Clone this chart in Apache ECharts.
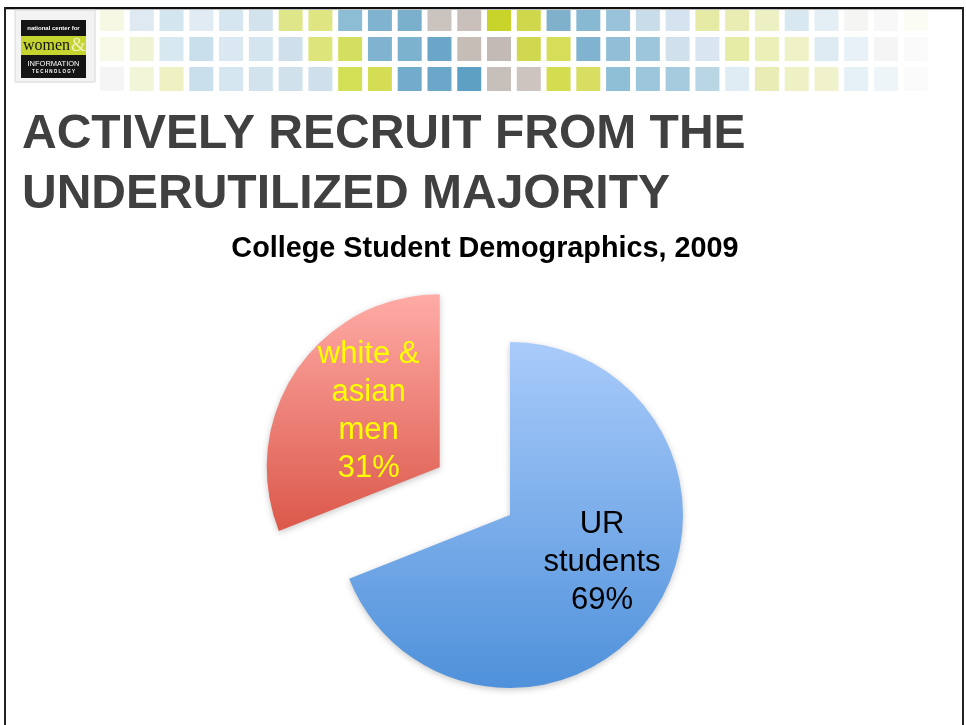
<!DOCTYPE html>
<html>
<head>
<meta charset="utf-8">
<script src="https://cdn.jsdelivr.net/npm/echarts@6/dist/echarts.min.js"></script>
<style>
html,body{margin:0;padding:0;background:#fff;}
#chart{width:966px;height:725px;}
</style>
</head>
<body>
<div id="chart"></div>
<script>
// ---- data ----
const categories = ['UR\nstudents', 'white &\nasian\nmen'];
const values = [69, 31];
const slideTitleLines = ['ACTIVELY RECRUIT FROM THE', 'UNDERUTILIZED MAJORITY'];
const chartTitle = 'College Student Demographics, 2009';

// ---- decorative header palette (style) ----
const headerRows = [
  ['#f7f8e4','#dfe9f1','#d3e5ee','#e0ebf3','#d6e6f0','#d3e3ee','#dfe68a','#dfe681','#8dbcd5','#7fb3cf','#7ab0cc','#cbc3be','#c9c0bb','#c8d42a','#cfd84a','#7fb1cd','#88b9d3','#98c3da','#c9dcea','#d4e3ef','#e5eaa4','#e9edb3','#edf0c3','#d8e8f0','#e4eef5','#f5f5f3','#f8f8f8','#fbfcf4'],
  ['#f8f9e6','#f1f3d5','#d8e8f0','#c9e0ec','#d9e8f1','#d5e5ef','#cfe0ec','#dde57a','#d5df5f','#80b3cf','#7cb2cd','#6aa6c8','#c6bdb7','#c3bab5','#cfd84e','#d6dd58','#80b3cf','#92bfd7','#9ec6db','#d0e1ed','#d9e6f2','#e6eba6','#ebefb8','#eef2c6','#deebf2','#e8f1f7','#f5f5f5','#fafafa'],
  ['#f5f5f5','#f3f5d8','#eef2c2','#c9dfeb','#d6e6f0','#d3e3ee','#d0e1ec','#cfe0ec','#d3df55','#d5dd55','#72abcb','#6ba7c9','#5ea0c4','#c6bfba','#cdc4c0','#d4dc50','#d7de62','#8fbed7','#9cc6dc','#a6cbdf','#b9d6e4','#dfecf3','#e9edb5','#eef1c4','#f0f2cc','#e6f0f7','#eef5f9','#fafbfa']
];

const graphics = [];
const rowY = [7, 37, 67];
headerRows.forEach((row, r) => {
  row.forEach((c, k) => {
    graphics.push({type:'rect', shape:{x:100 + 29.77*k, y:rowY[r], width:24, height:24}, style:{fill:c}, z:1, silent:true});
  });
});
// frame
graphics.push({type:'rect', shape:{x:4, y:7, width:960, height:2}, style:{fill:'#111'}, z:5, silent:true});
graphics.push({type:'rect', shape:{x:5, y:9, width:958, height:1}, style:{fill:'#bbb'}, z:5, silent:true});
graphics.push({type:'rect', shape:{x:4, y:7, width:2, height:720}, style:{fill:'#222'}, z:5, silent:true});
graphics.push({type:'rect', shape:{x:962, y:7, width:2, height:720}, style:{fill:'#222'}, z:5, silent:true});
// logo
graphics.push({type:'rect', shape:{x:15, y:10, width:80, height:72}, style:{fill:'#f3f3f3', stroke:'#d6d6d6', lineWidth:1}, z:6, silent:true});
graphics.push({type:'rect', shape:{x:21, y:20, width:65, height:58}, style:{fill:'#151515'}, z:7, silent:true});
graphics.push({type:'rect', shape:{x:21, y:36, width:65, height:19}, style:{fill:'#c6d42f'}, z:8, silent:true});
graphics.push({type:'text', x:53.5, y:28, style:{text:'national center for', fill:'#fff', font:'bold 6px "Liberation Sans", Arial', align:'center', verticalAlign:'middle'}, z:9, silent:true});
graphics.push({type:'text', x:23, y:46, style:{text:'women', fill:'#111', font:'16px "Liberation Serif", "DejaVu Serif", serif', align:'left', verticalAlign:'middle'}, z:9, silent:true});
graphics.push({type:'text', x:71, y:46, style:{text:'&', fill:'#eef2c0', font:'19px "Liberation Serif", serif', align:'left', verticalAlign:'middle'}, z:9, silent:true});
graphics.push({type:'text', x:53.5, y:64, style:{text:'INFORMATION', fill:'#fff', font:'7.5px "Liberation Sans", Arial', align:'center', verticalAlign:'middle'}, z:9, silent:true});
graphics.push({type:'text', x:53.5, y:72, style:{text:'T E C H N O L O G Y', fill:'#fff', font:'bold 4.5px "Liberation Sans", Arial', align:'center', verticalAlign:'middle'}, z:9, silent:true});
// slide title
slideTitleLines.forEach((t, i) => {
  graphics.push({type:'text', x:22, y:135 + 60*i, style:{text:t, fill:'#404040', font:'bold 48px "Liberation Sans", Arial, Helvetica', align:'left', verticalAlign:'middle'}, z:9, silent:true});
});
graphics.push({type:'text', x:485, y:249, style:{text:chartTitle, fill:'#000', font:'bold 28.8px "Liberation Sans", Arial, Helvetica', align:'center', verticalAlign:'middle'}, z:9, silent:true});

const sliceStyles = [
  {color: new echarts.graphic.LinearGradient(0,0,0,1,[{offset:0,color:'#a9cbfb'},{offset:1,color:'#4f91da'}]), label:'#000000', dx:18, dy:-3},
  {color: new echarts.graphic.LinearGradient(0,0,0,1,[{offset:0,color:'#ffaba6'},{offset:1,color:'#db584a'}]), label:'#ffff00', dx:3, dy:-5}
];

const chart = echarts.init(document.getElementById('chart'), null, {renderer:'canvas'});
chart.setOption({
  animation: false,
  backgroundColor: '#ffffff',
  graphic: graphics,
  series: [{
    type: 'pie',
    center: [510, 515],
    radius: [0, 173],
    startAngle: 90,
    clockwise: true,
    selectedMode: 'single',
    selectedOffset: 85,
    emphasis: {disabled: true},
    labelLine: {show: false},
    label: {
      show: true,
      position: 'inside',
      formatter: '{b}\n{c}%',
      fontFamily: '"Liberation Sans", Arial, Helvetica',
      fontSize: 31,
      lineHeight: 38,
      align: 'center'
    },
    labelLayout: function (p) {
      const s = sliceStyles[p.dataIndex];
      return {dx: s.dx, dy: s.dy};
    },
    itemStyle: {
      borderWidth: 0,
      shadowBlur: 6,
      shadowColor: 'rgba(0,0,0,0.22)',
      shadowOffsetY: 2
    },
    data: categories.map((name, i) => ({
      name: name,
      value: values[i],
      selected: i === 1,
      itemStyle: {color: sliceStyles[i].color},
      label: {color: sliceStyles[i].label}
    }))
  }]
});
</script>
</body>
</html>
